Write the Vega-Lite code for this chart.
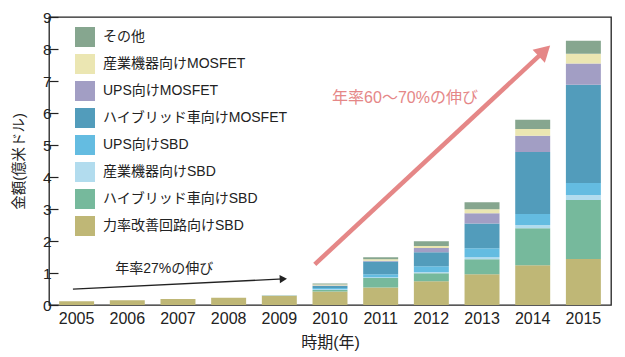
{
  "$schema": "https://vega.github.io/schema/vega-lite/v6.json",
  "width": 562,
  "height": 288,
  "autosize": "none",
  "padding": {"left": 49, "top": 17, "right": 14, "bottom": 52},
  "background": "white",
  "config": {
    "view": {"stroke": "#222222", "strokeWidth": 1.3},
    "font": "Liberation Sans, Noto Sans CJK JP"
  },
  "datasets": {
    "wide": [
      {"year": "2005", "力率改善回路向けSBD": 0.12, "ハイブリッド車向けSBD": 0, "産業機器向けSBD": 0, "UPS向けSBD": 0, "ハイブリッド車向けMOSFET": 0, "UPS向けMOSFET": 0, "産業機器向けMOSFET": 0, "その他": 0},
      {"year": "2006", "力率改善回路向けSBD": 0.15, "ハイブリッド車向けSBD": 0, "産業機器向けSBD": 0, "UPS向けSBD": 0, "ハイブリッド車向けMOSFET": 0, "UPS向けMOSFET": 0, "産業機器向けMOSFET": 0, "その他": 0},
      {"year": "2007", "力率改善回路向けSBD": 0.19, "ハイブリッド車向けSBD": 0, "産業機器向けSBD": 0, "UPS向けSBD": 0, "ハイブリッド車向けMOSFET": 0, "UPS向けMOSFET": 0, "産業機器向けMOSFET": 0, "その他": 0},
      {"year": "2008", "力率改善回路向けSBD": 0.23, "ハイブリッド車向けSBD": 0, "産業機器向けSBD": 0, "UPS向けSBD": 0, "ハイブリッド車向けMOSFET": 0, "UPS向けMOSFET": 0, "産業機器向けMOSFET": 0, "その他": 0},
      {"year": "2009", "力率改善回路向けSBD": 0.30, "ハイブリッド車向けSBD": 0, "産業機器向けSBD": 0.015, "UPS向けSBD": 0, "ハイブリッド車向けMOSFET": 0, "UPS向けMOSFET": 0, "産業機器向けMOSFET": 0, "その他": 0},
      {"year": "2010", "力率改善回路向けSBD": 0.42, "ハイブリッド車向けSBD": 0.05, "産業機器向けSBD": 0.02, "UPS向けSBD": 0.04, "ハイブリッド車向けMOSFET": 0.06, "UPS向けMOSFET": 0.02, "産業機器向けMOSFET": 0.03, "その他": 0.03},
      {"year": "2011", "力率改善回路向けSBD": 0.55, "ハイブリッド車向けSBD": 0.29, "産業機器向けSBD": 0.03, "UPS向けSBD": 0.09, "ハイブリッド車向けMOSFET": 0.40, "UPS向けMOSFET": 0.02, "産業機器向けMOSFET": 0.05, "その他": 0.06},
      {"year": "2012", "力率改善回路向けSBD": 0.74, "ハイブリッド車向けSBD": 0.25, "産業機器向けSBD": 0.04, "UPS向けSBD": 0.18, "ハイブリッド車向けMOSFET": 0.44, "UPS向けMOSFET": 0.13, "産業機器向けMOSFET": 0.06, "その他": 0.15},
      {"year": "2013", "力率改善回路向けSBD": 0.96, "ハイブリッド車向けSBD": 0.47, "産業機器向けSBD": 0.06, "UPS向けSBD": 0.28, "ハイブリッド車向けMOSFET": 0.78, "UPS向けMOSFET": 0.32, "産業機器向けMOSFET": 0.12, "その他": 0.22},
      {"year": "2014", "力率改善回路向けSBD": 1.24, "ハイブリッド車向けSBD": 1.16, "産業機器向けSBD": 0.10, "UPS向けSBD": 0.34, "ハイブリッド車向けMOSFET": 1.94, "UPS向けMOSFET": 0.51, "産業機器向けMOSFET": 0.21, "その他": 0.29},
      {"year": "2015", "力率改善回路向けSBD": 1.44, "ハイブリッド車向けSBD": 1.84, "産業機器向けSBD": 0.16, "UPS向けSBD": 0.37, "ハイブリッド車向けMOSFET": 3.07, "UPS向けMOSFET": 0.67, "産業機器向けMOSFET": 0.30, "その他": 0.41}
    ],
    "series": [
      {"series": "力率改善回路向けSBD", "k": 1},
      {"series": "ハイブリッド車向けSBD", "k": 2},
      {"series": "産業機器向けSBD", "k": 3},
      {"series": "UPS向けSBD", "k": 4},
      {"series": "ハイブリッド車向けMOSFET", "k": 5},
      {"series": "UPS向けMOSFET", "k": 6},
      {"series": "産業機器向けMOSFET", "k": 7},
      {"series": "その他", "k": 8}
    ]
  },
  "layer": [
    {
      "data": {"name": "wide"},
      "transform": [
        {"fold": ["力率改善回路向けSBD", "ハイブリッド車向けSBD", "産業機器向けSBD", "UPS向けSBD", "ハイブリッド車向けMOSFET", "UPS向けMOSFET", "産業機器向けMOSFET", "その他"], "as": ["series", "value"]},
        {"lookup": "series", "from": {"data": {"name": "series"}, "key": "series", "fields": ["k"]}}
      ],
      "mark": {"type": "bar", "strokeWidth": 0},
      "encoding": {
        "x": {
          "field": "year", "type": "ordinal",
          "scale": {"paddingInner": 0.31, "paddingOuter": 0.2},
          "axis": {
            "title": "時期(年)", "titleFont": "Liberation Sans, Noto Sans CJK JP", "titleFontSize": 16, "titleFontWeight": "normal", "titleColor": "#222222", "titlePadding": 8,
            "labelAngle": 0, "labelFontSize": 16, "labelColor": "#222222", "labelPadding": 5,
            "ticks": false, "tickSize": 0, "domain": false
          }
        },
        "y": {
          "field": "value", "type": "quantitative", "stack": "zero",
          "scale": {"domain": [0, 9], "nice": false},
          "axis": {
            "title": "金額(億米ドル)", "titleFont": "Liberation Sans, Noto Sans CJK JP", "titleFontSize": 14.5, "titleFontWeight": "normal", "titleColor": "#222222", "titlePadding": 16,
            "values": [0, 1, 2, 3, 4, 5, 6, 7, 8, 9], "labelOverlap": false, "labelFontSize": 15.5, "labelColor": "#222222",
            "tickSize": -9, "tickColor": "#222222", "tickWidth": 1.2, "labelPadding": 7,
            "grid": false, "domain": false
          }
        },
        "color": {
          "field": "series", "type": "nominal",
          "scale": {
            "domain": ["その他", "産業機器向けMOSFET", "UPS向けMOSFET", "ハイブリッド車向けMOSFET", "UPS向けSBD", "産業機器向けSBD", "ハイブリッド車向けSBD", "力率改善回路向けSBD"],
            "range": ["#86A68F", "#EBE6B2", "#A29EC4", "#529CBB", "#64BCE1", "#B2DCEE", "#76B99C", "#BFB776"]
          },
          "legend": {
            "orient": "none", "legendX": 26, "legendY": 10, "title": null,
            "symbolType": "square", "symbolSize": 400, "symbolStrokeWidth": 0, "symbolOpacity": 1,
            "rowPadding": 7, "labelOffset": 8, "labelFont": "Liberation Sans, Noto Sans CJK JP", "labelFontSize": 14, "labelColor": "#222222", "labelLimit": 300
          }
        },
        "order": {"field": "k", "type": "quantitative"}
      }
    },
    {
      "data": {"values": [{"x": 2004.93, "y": 0.495}, {"x": 2009.08, "y": 0.815}]},
      "mark": {"type": "line", "color": "#222222", "strokeWidth": 1.3},
      "encoding": {
        "x": {"field": "x", "type": "quantitative", "scale": {"domain": [2004.458, 2015.543], "nice": false, "zero": false}, "axis": null},
        "y": {"field": "y", "type": "quantitative", "scale": {"domain": [0, 9], "nice": false}, "axis": null}
      }
    },
    {
      "data": {"values": [{"x": 2009.08, "y": 0.815}]},
      "mark": {"type": "point", "shape": "triangle-right", "filled": true, "color": "#222222", "opacity": 1, "size": 70, "angle": 357.2},
      "encoding": {
        "x": {"field": "x", "type": "quantitative", "scale": {"domain": [2004.458, 2015.543], "nice": false, "zero": false}, "axis": null},
        "y": {"field": "y", "type": "quantitative", "scale": {"domain": [0, 9], "nice": false}, "axis": null}
      }
    },
    {
      "data": {"values": [{"x": 2009.70, "y": 1.27}, {"x": 2014.23, "y": 7.94}]},
      "mark": {"type": "line", "color": "#E58787", "strokeWidth": 4.5},
      "encoding": {
        "x": {"field": "x", "type": "quantitative", "scale": {"domain": [2004.458, 2015.543], "nice": false, "zero": false}, "axis": null},
        "y": {"field": "y", "type": "quantitative", "scale": {"domain": [0, 9], "nice": false}, "axis": null}
      }
    },
    {
      "data": {"values": [{"x": 2014.23, "y": 7.94}]},
      "mark": {"type": "point", "shape": "triangle-right", "filled": true, "color": "#E58787", "opacity": 1, "size": 324, "angle": 317.1},
      "encoding": {
        "x": {"field": "x", "type": "quantitative", "scale": {"domain": [2004.458, 2015.543], "nice": false, "zero": false}, "axis": null},
        "y": {"field": "y", "type": "quantitative", "scale": {"domain": [0, 9], "nice": false}, "axis": null}
      }
    },
    {
      "data": {"values": [{"x": 2006.73, "y": 1.11, "t": "年率27%の伸び"}]},
      "mark": {"type": "text", "font": "Liberation Sans, Noto Sans CJK JP", "fontSize": 14, "color": "#222222", "align": "center", "baseline": "middle"},
      "encoding": {
        "x": {"field": "x", "type": "quantitative", "scale": {"domain": [2004.458, 2015.543], "nice": false, "zero": false}, "axis": null},
        "y": {"field": "y", "type": "quantitative", "scale": {"domain": [0, 9], "nice": false}, "axis": null},
        "text": {"field": "t"}
      }
    },
    {
      "data": {"values": [{"x": 2011.48, "y": 6.48, "t": "年率60〜70%の伸び"}]},
      "mark": {"type": "text", "font": "Liberation Sans, Noto Sans CJK JP", "fontSize": 16, "color": "#E58787", "align": "center", "baseline": "middle"},
      "encoding": {
        "x": {"field": "x", "type": "quantitative", "scale": {"domain": [2004.458, 2015.543], "nice": false, "zero": false}, "axis": null},
        "y": {"field": "y", "type": "quantitative", "scale": {"domain": [0, 9], "nice": false}, "axis": null},
        "text": {"field": "t"}
      }
    }
  ],
  "resolve": {"scale": {"x": "independent", "y": "independent"}, "axis": {"x": "independent", "y": "independent"}}
}
